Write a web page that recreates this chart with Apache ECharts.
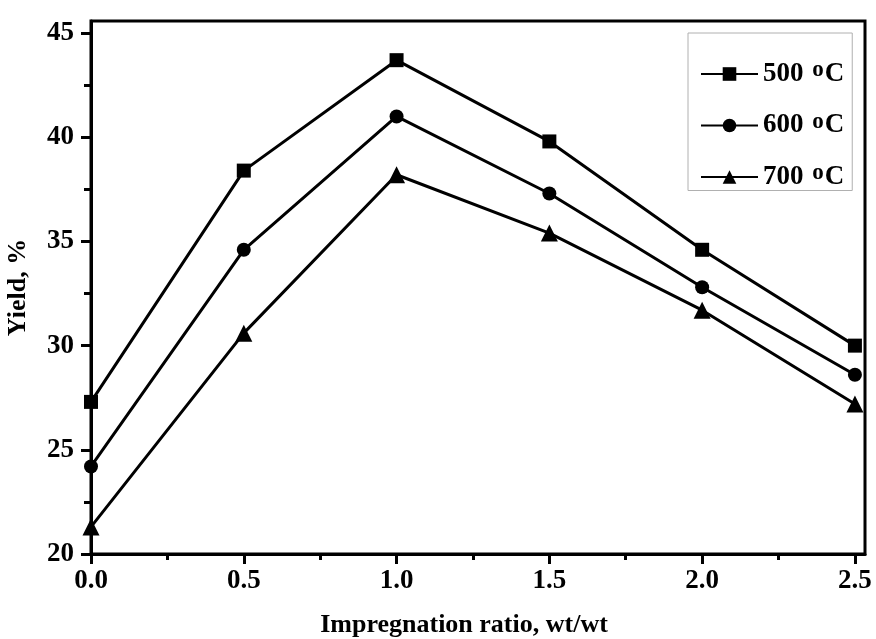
<!DOCTYPE html>
<html>
<head>
<meta charset="utf-8">
<script src="https://cdn.jsdelivr.net/npm/echarts@6/dist/echarts.min.js"></script>
<style>
html,body{margin:0;padding:0;background:#fff;}
#chart{width:876px;height:639px;}
</style>
</head>
<body>
<div id="chart"></div>
<script>
const xValues = [0.0, 0.5, 1.0, 1.5, 2.0, 2.5];
const series500 = [27.3, 38.4, 43.7, 39.8, 34.6, 30.0];
const series600 = [24.2, 34.6, 41.0, 37.3, 32.8, 28.6];
const series700 = [21.3, 30.6, 38.2, 35.4, 31.7, 27.2];
const seriesNames = ['500', '600', '700'];
const xTicks = [0.0, 0.5, 1.0, 1.5, 2.0, 2.5];
const xMinorTicks = [0.25, 0.75, 1.25, 1.75, 2.25];
const yTicks = [20, 25, 30, 35, 40, 45];
const yMinorTicks = [22.5, 27.5, 32.5, 37.5, 42.5];
const xTitle = 'Impregnation ratio, wt/wt';
const yTitle = 'Yield, %';

const FONT = 'Liberation Serif';
const symbols = ['rect', 'circle', 'triangle'];
const symbolSizes = [14, 14, 17];
const allSeries = [series500, series600, series700];

const chart = echarts.init(document.getElementById('chart'), null, {renderer: 'canvas'});
const axisLineStyle = {color: '#000', width: 3};
const xRange = {min: 0, max: 2.533};
const yRange = {min: 20, max: 45.58};

const option = {
  backgroundColor: '#fff',
  animation: false,
  grid: {left: 91, right: 11, top: 21, bottom: 85, show: true, borderColor: '#000', borderWidth: 3,
    containLabel: false, outerBoundsMode: 'none'},
  legend: {
    orient: 'vertical',
    left: 688, top: 33,
    padding: [26, 8, 0, 12],
    itemWidth: 57, itemHeight: 17, itemGap: 23, itemTextGap: 4,
    borderColor: '#b0b0b0', borderWidth: 1,
    data: seriesNames,
    formatter: function (name) { return '{n|' + name + ' }{s|o}{n|C}'; },
    textStyle: {
      rich: {
        n: {fontFamily: FONT, fontWeight: 'bold', fontSize: 27, color: '#000', lineHeight: 30, verticalAlign: 'middle'},
        s: {fontFamily: FONT, fontWeight: 'bold', fontSize: 23, color: '#000', lineHeight: 18, verticalAlign: 'top', padding: [0, 1, 0, 2]}
      }
    }
  },
  xAxis: [{
    type: 'value', min: xRange.min, max: xRange.max, position: 'bottom',
    name: xTitle, nameLocation: 'middle', nameGap: 58,
    nameTextStyle: {fontFamily: FONT, fontWeight: 'bold', fontSize: 26, color: '#000', padding: [0, 28, 0, 0]},
    axisLine: {show: true, lineStyle: axisLineStyle},
    axisTick: {show: true, inside: false, length: 10, lineStyle: {color: '#000', width: 3}, customValues: xTicks},
    axisLabel: {show: true, margin: 14, customValues: xTicks, fontFamily: FONT, fontWeight: 'bold', fontSize: 27, color: '#000',
      formatter: function (v) { return v.toFixed(1); }},
    splitLine: {show: false}
  }, {
    type: 'value', min: xRange.min, max: xRange.max, position: 'bottom',
    axisLine: {show: false},
    axisTick: {show: true, inside: false, length: 6, lineStyle: {color: '#000', width: 3}, customValues: xMinorTicks},
    axisLabel: {show: false},
    splitLine: {show: false}
  }],
  yAxis: [{
    type: 'value', min: yRange.min, max: yRange.max, position: 'left',
    name: yTitle, nameLocation: 'middle', nameGap: 60,
    nameTextStyle: {fontFamily: FONT, fontWeight: 'bold', fontSize: 26, color: '#000'},
    axisLine: {show: true, lineStyle: axisLineStyle},
    axisTick: {show: true, inside: false, length: 10, lineStyle: {color: '#000', width: 3}, customValues: yTicks},
    axisLabel: {show: true, margin: 17, customValues: yTicks, fontFamily: FONT, fontWeight: 'bold', fontSize: 27, color: '#000'},
    splitLine: {show: false}
  }, {
    type: 'value', min: yRange.min, max: yRange.max, position: 'left',
    axisLine: {show: false},
    axisTick: {show: true, inside: false, length: 7, lineStyle: {color: '#000', width: 3}, customValues: yMinorTicks},
    axisLabel: {show: false},
    splitLine: {show: false}
  }],
  series: allSeries.map(function (vals, i) {
    return {
      name: seriesNames[i],
      type: 'line',
      xAxisIndex: 0, yAxisIndex: 0,
      data: xValues.map(function (x, j) { return [x, vals[j]]; }),
      symbol: symbols[i],
      symbolSize: symbolSizes[i],
      showAllSymbol: true,
      lineStyle: {color: '#000', width: 3},
      itemStyle: {color: '#000'},
      clip: false,
      z: 5
    };
  })
};
chart.setOption(option);
</script>
</body>
</html>
